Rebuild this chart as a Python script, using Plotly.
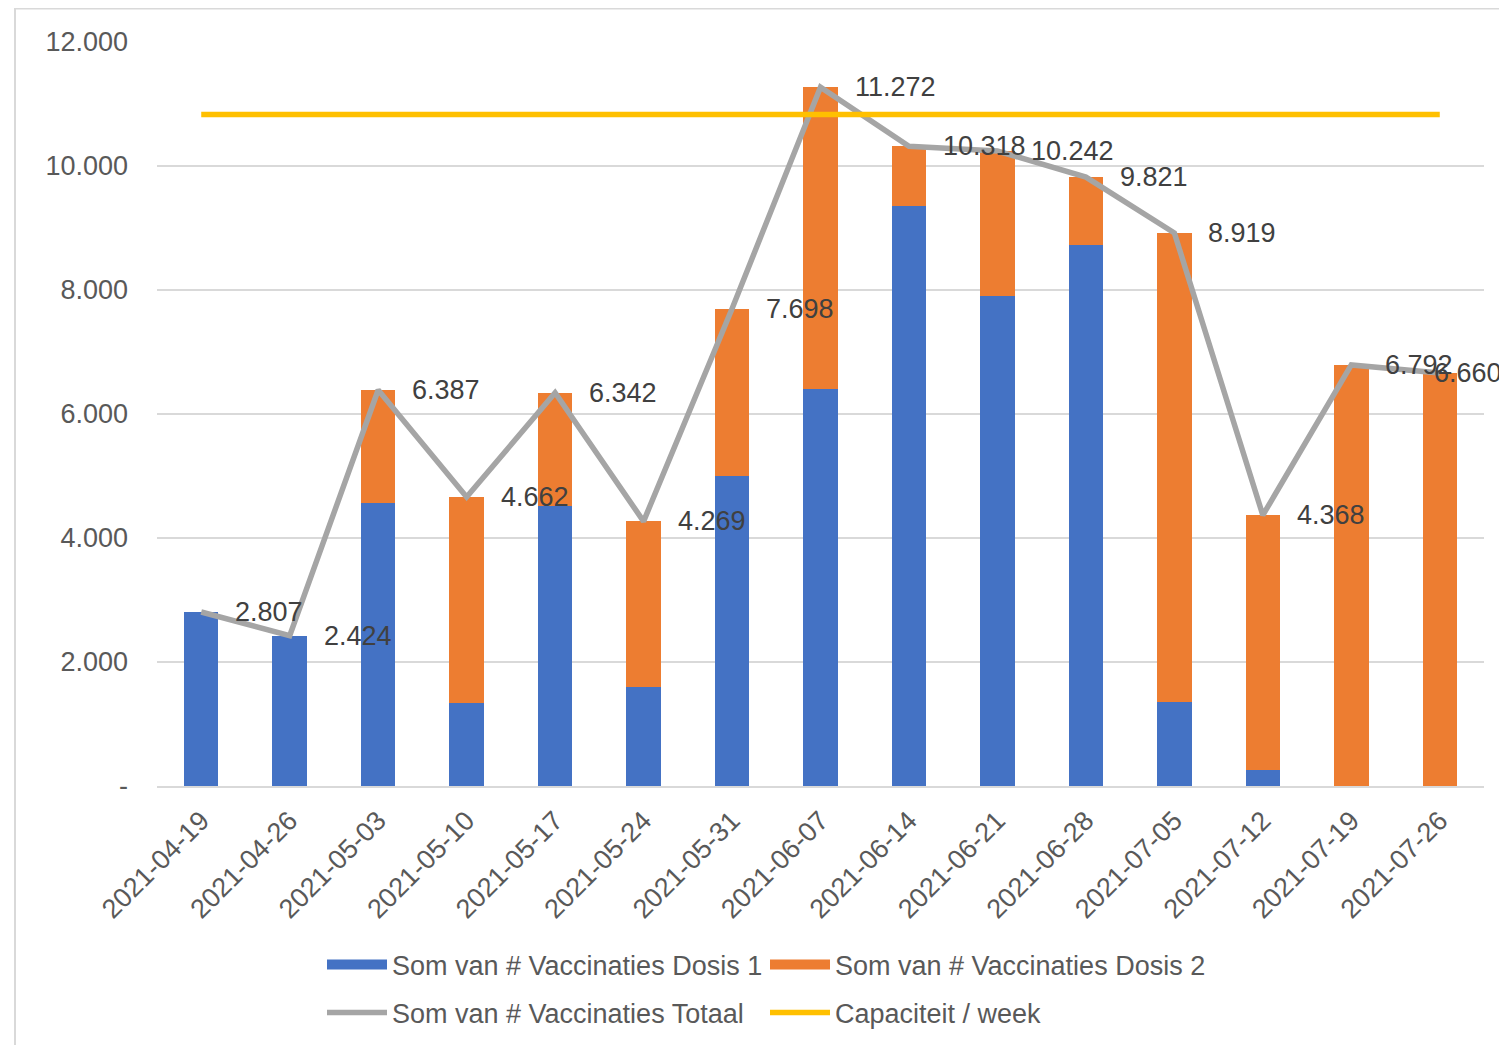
import plotly.graph_objects as go

weeks = ["2021-04-19", "2021-04-26", "2021-05-03", "2021-05-10", "2021-05-17",
         "2021-05-24", "2021-05-31", "2021-06-07", "2021-06-14", "2021-06-21",
         "2021-06-28", "2021-07-05", "2021-07-12", "2021-07-19", "2021-07-26"]
totaal = [2807, 2424, 6387, 4662, 6342, 4269, 7698, 11272, 10318, 10242,
          9821, 8919, 4368, 6792, 6660]
dosis1 = [2807, 2424, 4561, 1335, 4513, 1598, 5001, 6409, 9351, 7905,
          8722, 1355, 261, 0, 0]
dosis2 = [t - d for t, d in zip(totaal, dosis1)]
capaciteit = [10830, 10830, 10830, 10830, 10830, 10830, 10830, 10830, 10830,
              10830, 10830, 10830, 10830, 10830, 10830]
ytick_vals = [0, 2000, 4000, 6000, 8000, 10000, 12000]
ytick_text = ["-", "2.000", "4.000", "6.000", "8.000", "10.000", "12.000"]
total_labels = ["2.807", "2.424", "6.387", "4.662", "6.342", "4.269", "7.698",
                "11.272", "10.318", "10.242", "9.821", "8.919", "4.368",
                "6.792", "6.660"]

FONT = "Liberation Sans, Arial, sans-serif"
BLUE = "#4472C4"
ORANGE = "#ED7D31"
GREY = "#A5A5A5"
YELLOW = "#FFC000"

# page body has an 8px margin; figure is sized to fill the rest of the window
W, H = 1499, 1037
OFF = 8

fig = go.Figure()
fig.add_trace(go.Bar(x=weeks, y=dosis1, name="Som van # Vaccinaties Dosis 1",
                     marker=dict(color=BLUE, line=dict(width=0)), showlegend=False))
fig.add_trace(go.Bar(x=weeks, y=dosis2, name="Som van # Vaccinaties Dosis 2",
                     marker=dict(color=ORANGE, line=dict(width=0)), showlegend=False))
fig.add_trace(go.Scatter(x=weeks, y=totaal, name="Som van # Vaccinaties Totaal",
                         mode="lines", line=dict(color=GREY, width=5.5),
                         legend="legend2"))
fig.add_trace(go.Scatter(x=weeks, y=capaciteit, name="Capaciteit / week",
                         mode="lines", line=dict(color=YELLOW, width=5.5),
                         legend="legend2"))
# legend keys for the bar series (wide rectangular keys as in the original)
fig.add_trace(go.Scatter(x=[weeks[0]], y=[None], name="Som van # Vaccinaties Dosis 1",
                         mode="lines", line=dict(color=BLUE, width=14),
                         legend="legend", hoverinfo="skip"))
fig.add_trace(go.Scatter(x=[weeks[0]], y=[None], name="Som van # Vaccinaties Dosis 2",
                         mode="lines", line=dict(color=ORANGE, width=14),
                         legend="legend", hoverinfo="skip"))

n = len(weeks)
for i, (w, t, lab) in enumerate(zip(weeks, totaal, total_labels)):
    if i < n - 1:
        anchor, shift = "left", 32
    else:
        # last label is pulled in so it stays inside the chart, as in the original
        anchor, shift = "right", 64
    fig.add_annotation(x=w, y=t, text=lab, showarrow=False, xanchor=anchor,
                       yanchor="middle", xshift=shift,
                       font=dict(family=FONT, size=27, color="#404040"))

# chart frame
fig.add_shape(type="rect", xref="paper", yref="paper",
              x0=(15 - 157) / 1327, x1=(1520 - 157) / 1327,
              y0=(785.5 - 1060) / 744, y1=(785.5 - 8) / 744,
              line=dict(color="#D9D9D9", width=2), fillcolor="rgba(0,0,0,0)",
              layer="below")

legend_common = dict(orientation="h", xref="container", yref="container",
                     xanchor="left", yanchor="middle", itemwidth=60,
                     entrywidth=368, entrywidthmode="pixels",
                     traceorder="normal",
                     font=dict(family=FONT, size=27, color="#595959"),
                     bgcolor="rgba(0,0,0,0)", itemclick=False)

fig.update_layout(
    width=W, height=H,
    margin=dict(l=157 - OFF, r=23, t=42 - OFF, b=259),
    paper_bgcolor="white", plot_bgcolor="white",
    barmode="stack", bargap=0.61,
    font=dict(family=FONT, size=27, color="#595959"),
    legend=dict(x=(322 - OFF) / W, y=1 - (965 - OFF) / H, **legend_common),
    legend2=dict(x=(322 - OFF) / W, y=1 - (1013 - OFF) / H, **legend_common),
    xaxis=dict(type="category", categoryorder="array", categoryarray=weeks,
               range=[-0.5, len(weeks) - 0.5], tickangle=-45, showgrid=False,
               showline=True, linecolor="#D9D9D9", linewidth=2,
               ticks="", tickfont=dict(family=FONT, size=27, color="#595959"),
               ticklabelstandoff=6),
    yaxis=dict(range=[0, 12000], tickvals=ytick_vals, ticktext=ytick_text,
               showgrid=True, gridcolor="#D9D9D9", gridwidth=2,
               zeroline=False, showline=False, ticks="",
               tickfont=dict(family=FONT, size=27, color="#595959"),
               ticklabelstandoff=28),
)

fig.write_html("out.html")
